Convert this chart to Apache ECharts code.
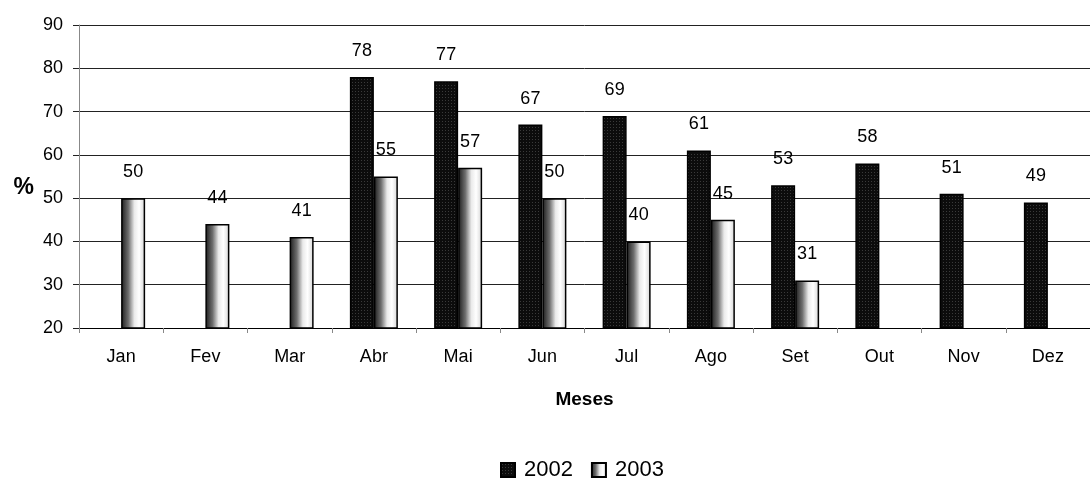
<!DOCTYPE html>
<html>
<head>
<meta charset="utf-8">
<script src="https://cdn.jsdelivr.net/npm/echarts@6/dist/echarts.min.js"></script>
<style>
  html, body { margin: 0; padding: 0; background: #fff; }
  #chart { width: 1090px; height: 478px; }
</style>
</head>
<body>
<div id="chart"></div>
<script>
// Monthly percentages, two years
const months = ['Jan', 'Fev', 'Mar', 'Abr', 'Mai', 'Jun', 'Jul', 'Ago', 'Set', 'Out', 'Nov', 'Dez'];
const values2002 = [null, null, null, 78, 77, 67, 69, 61, 53, 58, 51, 49];
const values2003 = [50, 44, 41, 55, 57, 50, 40, 45, 31, null, null, null];
const seriesNames = ['2002', '2003'];

// Fine dotted dark fill for the 2002 bars
function dotPattern() {
  const c = document.createElement('canvas');
  c.width = 3; c.height = 3;
  const g = c.getContext('2d');
  g.fillStyle = '#0c0c0c';
  g.fillRect(0, 0, 3, 3);
  g.fillStyle = '#3a3a3a';
  g.fillRect(1, 1, 1, 1);
  return c;
}

// Grey-to-white side shading for the 2003 bars
const shade = {
  type: 'linear', x: 0, y: 0, x2: 1, y2: 0,
  colorStops: [
    { offset: 0, color: '#1a1a1a' },
    { offset: 0.3, color: '#6e6e6e' },
    { offset: 0.55, color: '#eaeaea' },
    { offset: 0.75, color: '#ffffff' },
    { offset: 1, color: '#d4d4d4' }
  ]
};

const font = 'Liberation Sans, Arial, sans-serif';

const labelStyle = {
  show: true,
  position: 'top',
  distance: 17,
  color: '#000',
  fontFamily: font,
  fontSize: 18
};

const chart = echarts.init(document.getElementById('chart'), null, { renderer: 'canvas' });

chart.setOption({
  animation: false,
  backgroundColor: '#ffffff',
  grid: { left: 79, top: 25, width: 1020, height: 303, containLabel: false },
  legend: {
    data: seriesNames,
    left: 495,
    top: 454,
    icon: 'rect',
    itemWidth: 14,
    itemHeight: 14,
    itemGap: 18,
    textStyle: { fontFamily: font, fontSize: 22, color: '#000', padding: [0, 0, 0, 4] }
  },
  xAxis: {
    type: 'category',
    data: months,
    name: 'Meses',
    nameLocation: 'middle',
    nameGap: 62,
    nameMoveOverlap: false,
    nameTextStyle: { fontFamily: font, fontSize: 19, fontWeight: 'bold', color: '#000' },
    axisLine: { lineStyle: { color: '#000', width: 1 } },
    axisTick: { show: true, alignWithLabel: false, length: 5, lineStyle: { color: '#888' } },
    axisLabel: { fontFamily: font, fontSize: 18, color: '#000', margin: 20 },
    splitLine: { show: false }
  },
  yAxis: {
    type: 'value',
    min: 20,
    max: 90,
    interval: 10,
    name: '%',
    nameLocation: 'middle',
    nameRotate: 0,
    nameGap: 45,
    nameMoveOverlap: false,
    nameTextStyle: { fontFamily: font, fontSize: 23, fontWeight: 'bold', color: '#000', verticalAlign: 'top' },
    axisLine: { show: true, lineStyle: { color: '#888', width: 1 } },
    axisTick: { show: true, length: 6, lineStyle: { color: '#222' } },
    axisLabel: { fontFamily: font, fontSize: 18, color: '#000', margin: 16 },
    splitLine: { show: true, lineStyle: { color: '#222', width: 1 } }
  },
  series: [
    {
      name: seriesNames[0],
      type: 'bar',
      data: values2002,
      barWidth: 24,
      barGap: '0%',
      itemStyle: { color: { image: dotPattern(), repeat: 'repeat' }, borderColor: '#000', borderWidth: 1.5 },
      label: labelStyle
    },
    {
      name: seriesNames[1],
      type: 'bar',
      data: values2003,
      barWidth: 24,
      barGap: '0%',
      itemStyle: { color: shade, borderColor: '#000', borderWidth: 1.5 },
      label: labelStyle
    }
  ]
});
</script>
</body>
</html>
